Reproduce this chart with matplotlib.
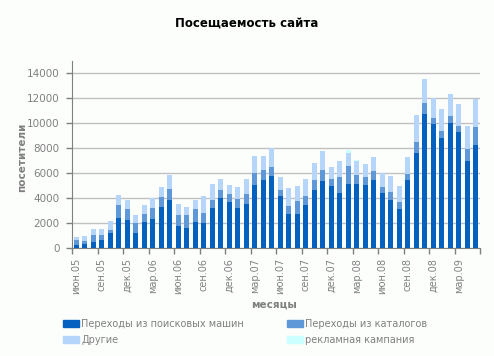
import numpy as np
import matplotlib
matplotlib.use("Agg")
import matplotlib.pyplot as plt
from matplotlib.patches import Patch

# months jun.2005 .. may.2009
month_names = ['янв', 'фев', 'мар', 'апр', 'май', 'июн', 'июл', 'авг', 'сен', 'окт', 'ноя', 'дек']
months = []
for k in range(48):
    m = (5 + k) % 12
    y = 5 + (5 + k) // 12
    months.append('%s.%02d' % (month_names[m], y))

search = [270, 350, 530, 670, 1250, 2450, 2270, 1250, 2110, 2350, 3310, 3870,
          1790, 1630, 2110, 2030, 3230, 4030, 3730, 3230, 3550, 5070, 5470, 5790,
          4190, 2750, 2750, 3470, 4670, 5390, 4990, 4430, 5150, 5150, 5070, 5470,
          4430, 3870, 3150, 5470, 7630, 10750, 9950, 8830, 10030, 9310, 6990, 8270]
catalogs = [400, 240, 530, 400, 210, 1010, 880, 750, 640, 900, 830, 880,
            880, 1040, 1040, 800, 640, 640, 610, 720, 800, 930, 800, 720,
            480, 640, 1040, 720, 800, 880, 560, 1280, 1440, 720, 640, 720,
            480, 640, 560, 480, 880, 880, 480, 560, 560, 480, 960, 1440]
others = [270, 430, 480, 480, 720, 800, 720, 670, 720, 800, 770, 1120,
          880, 670, 720, 1390, 1280, 880, 720, 960, 1200, 1390, 1120, 1490,
          1040, 1440, 1200, 1360, 1360, 1520, 960, 1280, 1040, 1120, 1040, 1120,
          1090, 1280, 1280, 1360, 2160, 1920, 1600, 1760, 1760, 1760, 1840, 2240]
ads = [0] * 48
ads[32] = 240
ads[33] = 80

c_search = '#0561bf'
c_cat = '#5e98d9'
c_oth = '#b6d5fb'
c_ad = '#ccffff'
grey = '#808080'

plt.rcParams['font.family'] = 'DejaVu Sans'
fig = plt.figure(figsize=(4.94, 3.56), dpi=100, facecolor='#fcfefc')
ax = fig.add_axes([72/494, 1-248.3/356, 408/494, (248.3-60.8)/356])
ax.set_facecolor('#fcfefc')

x = np.arange(48)
w = 0.62
s = np.array(search)
c = np.array(catalogs)
o = np.array(others)
a = np.array(ads)
ax.bar(x, s, w, color=c_search, zorder=3)
ax.bar(x, c, w, bottom=s, color=c_cat, zorder=3)
ax.bar(x, o, w, bottom=s+c, color=c_oth, zorder=3)
ax.bar(x, a, w, bottom=s+c+o, color=c_ad, zorder=3)

ax.set_xlim(-0.5, 47.5)
ax.set_ylim(0, 15000)
ax.set_yticks(range(0, 15000, 2000))
ax.yaxis.grid(True, color='#c0c0c0', linewidth=1, zorder=0)
ax.tick_params(axis='y', colors=grey, labelsize=7.5, length=4, width=1, pad=5)

ax.set_xticks(x[::3])
ax.set_xticklabels(months[::3], rotation=90)
ax.set_xticks(np.arange(-0.5, 48, 3), minor=True)
ax.tick_params(axis='x', which='major', length=0, colors=grey, labelsize=7, pad=7)
ax.tick_params(axis='x', which='minor', length=4, width=1, color=grey)

for side in ['top', 'right']:
    ax.spines[side].set_visible(False)
ax.spines['left'].set_color(grey)
ax.spines['bottom'].set_color(grey)

fig.text(274/494, 1-305/356, 'месяцы', ha='center', va='center',
         color=grey, fontsize=7.5, fontweight='bold')
fig.text(22/494, 1-157/356, 'посетители', ha='center', va='center', rotation=90,
         color=grey, fontsize=7.5, fontweight='bold')
fig.text(247/494, 1-23/356, 'Посещаемость сайта', ha='center', va='center',
         fontsize=8.5, fontweight='bold', color='black')

handles = [Patch(color=c_search), Patch(color=c_oth), Patch(color=c_cat), Patch(color=c_ad)]
labels = ['Переходы из поисковых машин', 'Другие', 'Переходы из каталогов', 'рекламная кампания']
leg = fig.legend(handles, labels, ncol=2, loc='upper left', bbox_to_anchor=(63/494, 1-319/356),
                 frameon=False, fontsize=7, handlelength=1.6, handleheight=0.75,
                 handletextpad=0.3, columnspacing=4.4, labelspacing=0.6, borderaxespad=0,
                 borderpad=0)
for t in leg.get_texts():
    t.set_color(grey)

fig.savefig('out.png', dpi=100, facecolor=fig.get_facecolor())
